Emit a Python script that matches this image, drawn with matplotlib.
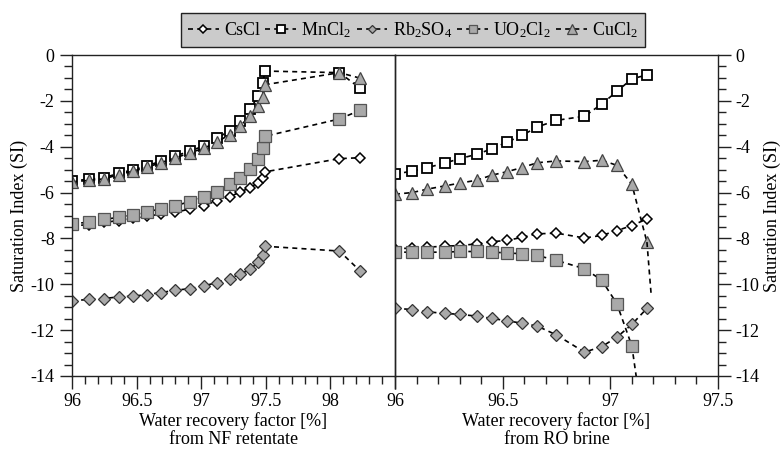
import matplotlib.pyplot as plt
import numpy as np
from matplotlib.ticker import MultipleLocator

plt.rcParams['font.family'] = ['Liberation Serif', 'DejaVu Serif']
plt.rcParams['font.serif'] = ['Liberation Serif', 'DejaVu Serif']
plt.rcParams['mathtext.fontset'] = 'custom'
plt.rcParams['mathtext.rm'] = 'Liberation Serif'
plt.rcParams['mathtext.it'] = 'Liberation Serif:italic'
plt.rcParams['axes.unicode_minus'] = False

# NF retentate (left panel)
x_nf = [96.0, 96.13, 96.25, 96.36, 96.47, 96.58, 96.69, 96.80, 96.91, 97.02,
        97.12, 97.22, 97.30, 97.38, 97.44, 97.48, 97.49, 98.07, 98.23]
cscl_nf = [-7.45, -7.40, -7.30, -7.22, -7.13, -7.03, -6.94, -6.86, -6.72, -6.57,
           -6.36, -6.18, -5.98, -5.78, -5.58, -5.35, -5.10, -4.52, -4.48]
mncl2_nf = [-5.49, -5.42, -5.35, -5.16, -5.01, -4.84, -4.62, -4.41, -4.19, -3.97,
            -3.64, -3.30, -2.86, -2.37, -1.78, -1.22, -0.70, -0.77, -1.45]
rb2so4_nf = [-10.72, -10.66, -10.62, -10.55, -10.52, -10.45, -10.36, -10.26, -10.19, -10.07,
             -9.93, -9.75, -9.56, -9.35, -9.03, -8.71, -8.34, -8.55, -9.42]
uo2cl2_nf = [-7.35, -7.30, -7.17, -7.08, -6.98, -6.85, -6.70, -6.57, -6.40, -6.20,
             -5.97, -5.63, -5.35, -4.96, -4.55, -4.05, -3.55, -2.79, -2.41]
cucl2_nf = [-5.53, -5.47, -5.40, -5.22, -5.07, -4.90, -4.69, -4.49, -4.27, -4.07,
            -3.80, -3.47, -3.09, -2.67, -2.24, -1.81, -1.30, -0.77, -1.01]

# RO brine (right panel)
x_ro = [96.0, 96.08, 96.15, 96.23, 96.30, 96.38, 96.45, 96.52, 96.59, 96.66,
        96.75, 96.88, 96.96, 97.03, 97.10, 97.17]
cscl_ro = [-8.45, -8.42, -8.38, -8.34, -8.31, -8.24, -8.14, -8.09, -7.95, -7.80,
           -7.77, -7.98, -7.87, -7.66, -7.44, -7.15]
mncl2_ro = [-5.20, -5.06, -4.91, -4.72, -4.52, -4.33, -4.09, -3.80, -3.51, -3.14,
            -2.85, -2.67, -2.14, -1.59, -1.04, -0.87]
rb2so4_ro = [-11.05, -11.10, -11.20, -11.27, -11.31, -11.39, -11.49, -11.59, -11.70, -11.82,
             -12.21, -12.96, -12.72, -12.31, -11.75, -11.05]
uo2cl2_ro = [-8.60, -8.60, -8.60, -8.60, -8.57, -8.57, -8.60, -8.63, -8.67, -8.74,
             -8.96, -9.32, -9.82, -10.84, -12.69, -17.3]
cucl2_ro = [-6.07, -6.00, -5.85, -5.71, -5.59, -5.46, -5.24, -5.09, -4.91, -4.70,
            -4.62, -4.65, -4.59, -4.81, -5.64, -8.16]
# end of the CuCl2 line below the last marker
cucl2_tail_x = [97.17, 97.19]
cucl2_tail_y = [-8.16, -10.5]

names = ['CsCl', 'MnCl$_\\mathrm{2}$', 'Rb$_\\mathrm{2}$SO$_\\mathrm{4}$',
         'UO$_\\mathrm{2}$Cl$_\\mathrm{2}$', 'CuCl$_\\mathrm{2}$']
gray = '#a9a9a9'
styles = [
    dict(marker='D', ms=5.5, mfc='white', mec='black', mew=1.1),
    dict(marker='s', ms=7.8, mfc='white', mec='black', mew=1.3),
    dict(marker='D', ms=6, mfc=gray, mec='#333333', mew=0.9),
    dict(marker='s', ms=8.3, mfc=gray, mec='#555555', mew=0.9),
    dict(marker='^', ms=9, mfc=gray, mec='#444444', mew=0.9),
]
dash = (0, (3, 2.5))

fig = plt.figure(figsize=(7.8, 4.57), dpi=100)
ax1 = fig.add_axes([72 / 780, 1 - 376 / 457, 323 / 780, 321 / 457])
ax2 = fig.add_axes([395 / 780, 1 - 376 / 457, 323 / 780, 321 / 457])
ax2.patch.set_visible(False)

nf = [cscl_nf, mncl2_nf, rb2so4_nf, uo2cl2_nf, cucl2_nf]
ro = [cscl_ro, mncl2_ro, rb2so4_ro, uo2cl2_ro, cucl2_ro]
handles = []
for i in range(5):
    h, = ax1.plot(x_nf, nf[i], color='black', lw=1.2, ls=dash, label=names[i], **styles[i])
    ax2.plot(x_ro, ro[i], color='black', lw=1.2, ls=dash, **styles[i])
    handles.append(h)
ax2.plot(cucl2_tail_x, cucl2_tail_y, color='black', lw=1.2, ls=dash)

for ax in (ax1, ax2):
    ax.set_ylim(-14, 0)
    ax.yaxis.set_major_locator(MultipleLocator(2))
    ax.yaxis.set_minor_locator(MultipleLocator(0.5))
    ax.xaxis.set_minor_locator(MultipleLocator(0.1))
    for s in ax.spines.values():
        s.set_linewidth(1.0)
        s.set_color('#222222')
    ax.tick_params(which='major', direction='out', length=9, width=1.0, labelsize=13, color='#222222')
    ax.tick_params(which='minor', direction='out', length=6, width=1.0, color='#222222')
    ax.tick_params(axis='x', top=False, which='both')

ylabels = ['-14', '-12', '-10', '-8', '-6', '-4', '-2', '0']

ax1.set_xlim(96, 98.5)
ax1.set_xticks([96, 96.5, 97, 97.5, 98, 98.5])
ax1.set_xticklabels(['96', '96.5', '97', '97.5', '98', ''])
ax1.tick_params(axis='y', left=True, right=False, which='both')
ax1.set_yticks(np.arange(-14, 1, 2))
ax1.set_yticklabels(ylabels)
ax1.set_ylabel('Saturation Index (SI)', fontsize=13, labelpad=2)
ax1.set_xlabel('Water recovery factor [%]\nfrom NF retentate', fontsize=13, labelpad=1, linespacing=1.1)

ax2.set_xlim(96, 97.5)
ax2.set_xticks([96, 96.5, 97, 97.5])
ax2.set_xticklabels(['96', '96.5', '97', '97.5'])
ax2.yaxis.tick_right()
ax2.yaxis.set_label_position('right')
ax2.tick_params(axis='y', left=False, right=True, which='both')
ax2.set_yticks(np.arange(-14, 1, 2))
ax2.set_yticklabels(ylabels)
ax2.set_ylabel('Saturation Index (SI)', fontsize=13, labelpad=3, rotation=90)
ax2.set_xlabel('Water recovery factor [%]\nfrom RO brine', fontsize=13, labelpad=1, linespacing=1.1)

leg = fig.legend(handles=handles, loc='center', bbox_to_anchor=(413 / 780, 1 - 30 / 457),
                 ncol=5, fontsize=13, frameon=True, fancybox=False, markerscale=0.75,
                 handlelength=1.7, handletextpad=0.3, columnspacing=0.3, borderpad=0.4,
                 framealpha=1)
leg.get_frame().set_facecolor('#cbcbcb')
leg.get_frame().set_edgecolor('#222222')
leg.get_frame().set_linewidth(1.0)

fig.savefig('out.png', dpi=100)
